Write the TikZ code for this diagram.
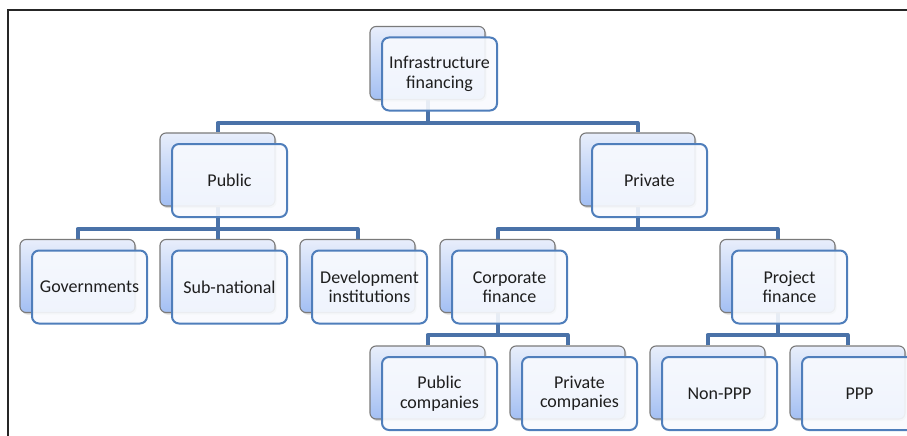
\documentclass[tikz,border=0pt]{standalone}
\usepackage{fontspec}
\setmainfont{Carlito}
\usetikzlibrary{shadows,calc}
\pgfdeclarelayer{bg}
\pgfsetlayers{bg,main}
\definecolor{connc}{HTML}{4A72A8}
\definecolor{backtop}{HTML}{E8EEFB}
\definecolor{backbot}{HTML}{A3BFF3}
\definecolor{backline}{HTML}{7A7A7A}
\definecolor{frontline}{HTML}{4F7EBB}
\definecolor{frontfill}{HTML}{F8FAFE}
\definecolor{txtc}{HTML}{1E1E1E}
\newcommand\orgpair[4]{%
  \node[backbox] (#1b) at (#2,#3+36.5) {};
  \node[frontbox] (#1f) at (#2+12,#3+47.5) {#4};}
\begin{document}
\begin{tikzpicture}[x=1pt,y=-1pt,
  backbox/.style={draw=backline, line width=1.1pt, rounded corners=6pt,
    minimum width=115pt, minimum height=73pt, inner sep=0pt,
    top color=backtop, bottom color=backbot,
    drop shadow={opacity=0.3,shadow xshift=1.5pt,shadow yshift=-2pt}},
  frontbox/.style={draw=frontline, line width=2pt, rounded corners=7pt,
    minimum width=115pt, minimum height=73pt, inner sep=0pt,
    fill=frontfill, fill opacity=0.9, text opacity=1, text=txtc,
    align=center, font=\fontsize{18}{19.5}\selectfont},
  connector/.style={draw=connc, line width=4pt, line join=round},
  frame/.style={draw=black!85, line width=1.5pt}]
\useasboundingbox (0,0) rectangle (907,436);
\clip (0,0) rectangle (907,436);
\draw[frame] (8,436) -- (8,10) -- (907,10);
\orgpair{top}{427.5}{26.5}{Infrastructure\\financing}
\orgpair{public}{217.5}{133}{Public}
\orgpair{private}{637.5}{133}{Private}
\orgpair{gov}{77.5}{239.5}{Governments}
\orgpair{sub}{217.5}{239.5}{Sub-national}
\orgpair{dev}{357.5}{239.5}{Development\\institutions}
\orgpair{corp}{497.5}{239.5}{Corporate\\finance}
\orgpair{proj}{777.5}{239.5}{Project\\finance}
\orgpair{pubco}{427.5}{346}{Public\\companies}
\orgpair{privco}{567.5}{346}{Private\\companies}
\orgpair{nonppp}{707.5}{346}{Non-PPP}
\orgpair{ppp}{847.5}{346}{PPP}
\coordinate (bus1) at (427.5,123);
\coordinate (bus2a) at (217.5,229);
\coordinate (bus2b) at (637.5,229);
\coordinate (bus3a) at (497.5,335);
\coordinate (bus3b) at (777.5,335);
\begin{pgfonlayer}{bg}
\draw[connector] (topb.south) -- (bus1);
\draw[connector] (publicb.north) |- (bus1) -| (privateb.north);
\draw[connector] (publicb.south) -- (bus2a);
\draw[connector] (govb.north) |- (bus2a) -| (devb.north);
\draw[connector] (subb.north) -- (bus2a);
\draw[connector] (privateb.south) -- (bus2b);
\draw[connector] (corpb.north) |- (bus2b) -| (projb.north);
\draw[connector] (corpb.south) -- (bus3a);
\draw[connector] (pubcob.north) |- (bus3a) -| (privcob.north);
\draw[connector] (projb.south) -- (bus3b);
\draw[connector] (nonpppb.north) |- (bus3b) -| (pppb.north);
\end{pgfonlayer}
\end{tikzpicture}
\end{document}
